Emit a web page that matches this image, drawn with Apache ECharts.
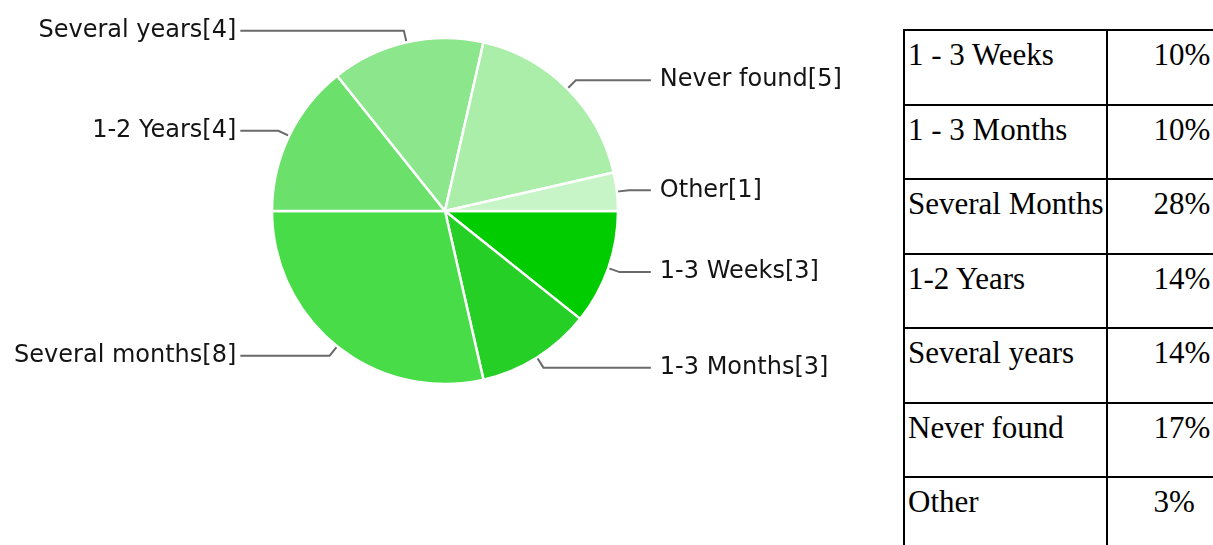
<!DOCTYPE html>
<html>
<head>
<meta charset="utf-8">
<script src="https://cdn.jsdelivr.net/npm/echarts@6/dist/echarts.min.js"></script>
<style>
  html, body { margin: 0; padding: 0; background: #fff; width: 1213px; height: 545px; overflow: hidden; position: relative; }
  #pie { position: absolute; left: 0; top: 0; width: 900px; height: 383px; }
  #summary {
    position: absolute; left: 903px; top: 29px;
    border-collapse: collapse;
    font-family: "Liberation Serif", "Times New Roman", serif;
    font-size: 31px; color: #000;
  }
  #summary td {
    border: 2px solid #000;
    height: 66.5px;
    vertical-align: top;
    padding: 6px 3px 0 3px;
    white-space: nowrap;
  }
  #summary td.name { width: 198px; }
  #summary td.pct { width: 60px; padding-left: 45px; }
</style>
</head>
<body>
<div id="pie"></div>
<table id="summary"><tbody></tbody></table>
<script>
// Time until the item was found: answer counts shown in the pie
const categories = ['1-3 Weeks', '1-3 Months', 'Several months', '1-2 Years', 'Several years', 'Never found', 'Other'];
const counts = [3, 3, 8, 4, 4, 5, 1];
const sliceColors = ['#00cc00', '#26cf26', '#48dd48', '#6be06b', '#8ce78c', '#aaeeaa', '#c8f5c8'];

// Summary table rows
const tableLabels = ['1 - 3 Weeks', '1 - 3 Months', 'Several Months', '1-2 Years', 'Several years', 'Never found', 'Other'];
const tablePercents = ['10%', '10%', '28%', '14%', '14%', '17%', '3%'];

const tbody = document.querySelector('#summary tbody');
tableLabels.forEach(function (name, i) {
  const tr = document.createElement('tr');
  const a = document.createElement('td');
  a.className = 'name';
  a.textContent = name;
  const b = document.createElement('td');
  b.className = 'pct';
  b.textContent = tablePercents[i];
  tr.appendChild(a);
  tr.appendChild(b);
  tbody.appendChild(tr);
});

// Pie geometry
const CX = 445, CY = 211, R = 173;
const LEAD1 = 12;          // radial part of the leader line
const LEAD2_LEFT = 38;     // shortest horizontal part, left side
const LEAD2_RIGHT = 22;    // shortest horizontal part, right side

// Leader lines on each side end at a common x, like Google-style pie labels:
// find where each radial segment ends, then stretch the horizontal parts.
const total = counts.reduce(function (s, v) { return s + v; }, 0);
let acc = 0;
const elbows = counts.map(function (v) {
  const mid = (acc + v / 2) / total * 2 * Math.PI;
  acc += v;
  const cos = Math.cos(mid);
  return { x: CX + (R + LEAD1) * cos, left: cos < 0 };
});
const leftmost = Math.min.apply(null, elbows.filter(function (e) { return e.left; }).map(function (e) { return e.x; }));
const rightmost = Math.max.apply(null, elbows.filter(function (e) { return !e.left; }).map(function (e) { return e.x; }));

const pieData = categories.map(function (name, i) {
  const e = elbows[i];
  const len2 = e.left ? (e.x - leftmost) + LEAD2_LEFT : (rightmost - e.x) + LEAD2_RIGHT;
  return {
    name: name,
    value: counts[i],
    itemStyle: { color: sliceColors[i] },
    label: { distanceToLabelLine: e.left ? 4 : 9 },
    labelLine: { length: LEAD1, length2: len2 }
  };
});

const chart = echarts.init(document.getElementById('pie'), null, { renderer: 'canvas' });

chart.setOption({
  animation: false,
  backgroundColor: '#ffffff',
  series: [{
    type: 'pie',
    center: [CX, CY],
    radius: R,
    startAngle: 0,
    clockwise: true,
    avoidLabelOverlap: false,
    itemStyle: { borderColor: '#ffffff', borderWidth: 2.5 },
    label: {
      show: true,
      position: 'outside',
      formatter: '{b}[{c}]',
      fontFamily: 'DejaVu Sans',
      fontSize: 24,
      color: '#141414',
      padding: [0, 0, 16, 0]
    },
    labelLine: {
      show: true,
      smooth: false,
      lineStyle: { color: '#6a6a6a', width: 2 }
    },
    emphasis: { disabled: true },
    data: pieData
  }]
});
</script>
</body>
</html>
